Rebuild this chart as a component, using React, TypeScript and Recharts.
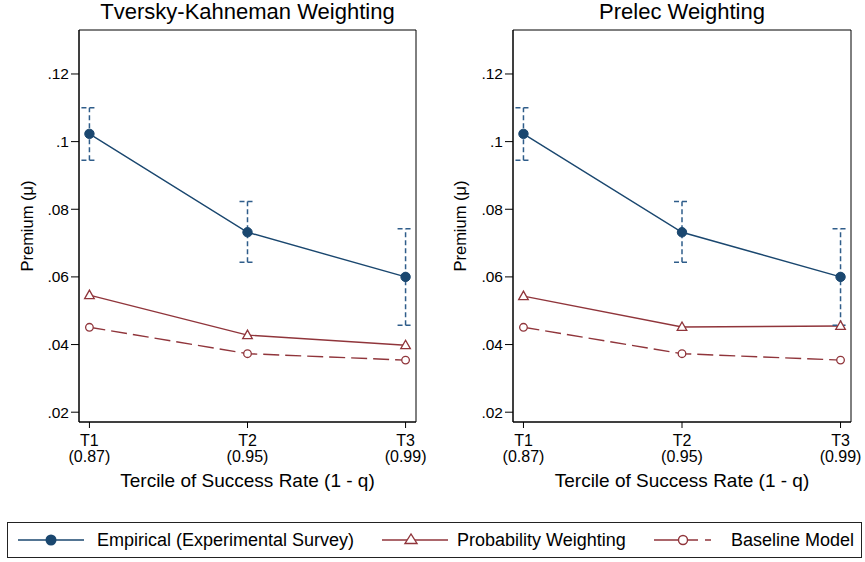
import React from 'react';
import { LineChart, Line, XAxis, YAxis, ErrorBar, ReferenceArea } from 'recharts';

const categories = ['T1', 'T2', 'T3'];
const rates = ['(0.87)', '(0.95)', '(0.99)'];
const empirical = [0.1023, 0.0732, 0.06];
const empLow = [0.0945, 0.0643, 0.0457];
const empHigh = [0.11, 0.0823, 0.0742];
const tkProb = [0.0546, 0.0428, 0.0398];
const prelecProb = [0.0543, 0.0452, 0.0455];
const baseline = [0.0451, 0.0373, 0.0354];
const yTicks = [0.02, 0.04, 0.06, 0.08, 0.1, 0.12];

const NAVY = '#1a476f';
const ERR = '#2f5d8a';
const MAROON = '#90353b';
const FONT = "Arial, 'Liberation Sans', sans-serif";
const X_DOMAIN: [number, number] = [0.934, 3.066];
const Y_DOMAIN: [number, number] = [0.0171, 0.133];

const buildData = (prob: number[]) =>
  categories.map((c, i) => ({
    x: i + 1,
    empirical: empirical[i],
    err: [empirical[i] - empLow[i], empHigh[i] - empirical[i]],
    prob: prob[i],
    baseline: baseline[i],
  }));

const fmtY = (v: number) => String(v).replace(/^0/, '');

const XTick = (props: any) => {
  const { x, y, payload } = props;
  const i = Math.round(payload.value) - 1;
  return (
    <text x={x} y={y} textAnchor="middle" fill="#000" fontSize={16} fontFamily={FONT}>
      <tspan x={x} dy={18}>{categories[i]}</tspan>
      <tspan x={x} dy={15.5}>{rates[i]}</tspan>
    </text>
  );
};

const FilledDot = (props: any) => {
  const { cx, cy, key } = props;
  return <circle key={key} cx={cx} cy={cy} r={4.7} fill={NAVY} stroke={NAVY} />;
};

const Triangle = (props: any) => {
  const { cx, cy, key } = props;
  const pts = `${cx},${cy - 5} ${cx - 4.8},${cy + 3.5} ${cx + 4.8},${cy + 3.5}`;
  return <polygon key={key} points={pts} fill="#fff" stroke={MAROON} strokeWidth={1.3} />;
};

const HollowCircle = (props: any) => {
  const { cx, cy, key } = props;
  return <circle key={key} cx={cx} cy={cy} r={3.8} fill="#fff" stroke={MAROON} strokeWidth={1.3} />;
};

interface PanelProps {
  title: string;
  prob: number[];
  yWidth: number;
  right: number;
}

const Panel: React.FC<PanelProps> = ({ title, prob, yWidth, right }) => {
  const data = buildData(prob);
  const plotCenter = (yWidth + 432 - right) / 2;
  return (
    <div style={{ position: 'relative', width: 432, height: 500 }}>
      <div
        style={{
          position: 'absolute',
          left: plotCenter - 200,
          width: 400,
          top: 3,
          textAlign: 'center',
          fontSize: 22,
          lineHeight: '18px',
          color: '#000',
          whiteSpace: 'nowrap',
        }}
      >
        {title}
      </div>
      <LineChart
        width={432}
        height={500}
        data={data}
        margin={{ top: 30, right, left: 0, bottom: 28 }}
        style={{ fontFamily: FONT }}
      >
        <XAxis
          dataKey="x"
          type="number"
          domain={X_DOMAIN}
          ticks={[1, 2, 3]}
          tick={<XTick />}
          tickSize={6}
          tickMargin={0}
          stroke="#000"
          height={50}
          label={{
            value: 'Tercile of Success Rate (1 - q)',
            position: 'bottom',
            offset: 2,
            fill: '#000',
            style: { fontSize: 19 },
          }}
        />
        <YAxis
          type="number"
          domain={Y_DOMAIN}
          ticks={yTicks}
          allowDataOverflow
          tickFormatter={fmtY}
          tickSize={8}
          tickMargin={2}
          stroke="#000"
          tick={{ fill: '#000', fontSize: 15.5 }}
          width={yWidth}
          label={{
            value: 'Premium (\u03bc)',
            angle: -90,
            position: 'insideLeft',
            offset: 27,
            fill: '#000',
            style: { textAnchor: 'middle', fontSize: 16.5 },
          }}
        />
        <ReferenceArea
          x1={X_DOMAIN[0]}
          x2={X_DOMAIN[1]}
          y1={Y_DOMAIN[0]}
          y2={Y_DOMAIN[1]}
          fill="none"
          stroke="#000"
          strokeWidth={1}
        />
        <Line
          dataKey="baseline"
          stroke={MAROON}
          strokeWidth={1.4}
          strokeDasharray="16 6"
          dot={<HollowCircle />}
          activeDot={false}
          isAnimationActive={false}
        />
        <Line
          dataKey="prob"
          stroke={MAROON}
          strokeWidth={1.4}
          dot={<Triangle />}
          activeDot={false}
          isAnimationActive={false}
        />
        <Line
          dataKey="empirical"
          stroke={NAVY}
          strokeWidth={1.4}
          dot={<FilledDot />}
          activeDot={false}
          isAnimationActive={false}
        >
          <ErrorBar dataKey="err" width={8} stroke={ERR} strokeWidth={1.5} strokeDasharray="5 3" direction="y" />
        </Line>
      </LineChart>
    </div>
  );
};

const LegendIcon = ({ kind }: { kind: 'emp' | 'prob' | 'base' }) => {
  const color = kind === 'emp' ? NAVY : MAROON;
  return (
    <svg width={66} height={20} style={{ position: 'absolute', left: 0, top: 7 }}>
      <line
        x1={0}
        y1={10}
        x2={66}
        y2={10}
        stroke={color}
        strokeWidth={1.5}
        strokeDasharray={kind === 'base' ? '44 7 6 20' : undefined}
      />
      {kind === 'emp' && <circle cx={33} cy={10} r={5.5} fill={NAVY} />}
      {kind === 'prob' && <polygon points="29,4 23,13.5 35,13.5" fill="#fff" stroke={MAROON} strokeWidth={1.4} />}
      {kind === 'base' && <circle cx={29} cy={10} r={4.5} fill="#fff" stroke={MAROON} strokeWidth={1.4} />}
    </svg>
  );
};

const legendItems: { kind: 'emp' | 'prob' | 'base'; label: string; icon: number; text: number }[] = [
  { kind: 'emp', label: 'Empirical (Experimental Survey)', icon: 10, text: 89 },
  { kind: 'prob', label: 'Probability Weighting', icon: 374, text: 449 },
  { kind: 'base', label: 'Baseline Model', icon: 646, text: 723 },
];

export default function App() {
  return (
    <div style={{ position: 'absolute', left: 0, top: 0, width: 865, height: 562, background: '#fff', fontFamily: FONT }}>
      <div style={{ position: 'absolute', left: 0, top: 0 }}>
        <Panel title="Tversky-Kahneman Weighting" prob={tkProb} yWidth={79} right={16} />
      </div>
      <div style={{ position: 'absolute', left: 433, top: 0 }}>
        <Panel title="Prelec Weighting" prob={prelecProb} yWidth={80} right={14} />
      </div>
      <div
        style={{
          position: 'absolute',
          left: 7,
          top: 522,
          width: 853,
          height: 34,
          border: '1px solid #222',
          boxSizing: 'content-box',
        }}
      >
        {legendItems.map((it) => (
          <React.Fragment key={it.kind}>
            <div style={{ position: 'absolute', left: it.icon, top: 0, width: 66, height: 34 }}>
              <LegendIcon kind={it.kind} />
            </div>
            <span
              style={{
                position: 'absolute',
                left: it.text,
                top: 6,
                whiteSpace: 'nowrap',
                fontSize: 18,
                lineHeight: '22px',
                color: '#000',
              }}
            >
              {it.label}
            </span>
          </React.Fragment>
        ))}
      </div>
    </div>
  );
}
